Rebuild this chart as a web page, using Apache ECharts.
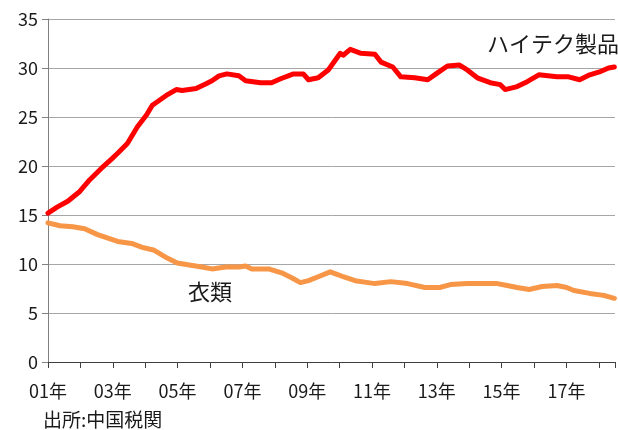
<!DOCTYPE html>
<html>
<head>
<meta charset="utf-8">
<script src="https://cdn.jsdelivr.net/npm/echarts@6/dist/echarts.min.js"></script>
<style>
  html, body { margin: 0; padding: 0; background: #ffffff; }
  #chart { width: 618px; height: 430px; }
</style>
</head>
<body>
<div id="chart"></div>
<script>
// ハイテク製品 share (%)
const hiTechYears = [
  2001.00, 2001.28, 2001.61, 2001.98, 2002.29, 2002.66, 2002.96, 2003.15, 2003.45, 2003.76,
  2004.04, 2004.22, 2004.65, 2004.96, 2005.14, 2005.57, 2005.88, 2006.06, 2006.28, 2006.52,
  2006.89, 2007.10, 2007.56, 2007.90, 2008.18, 2008.58, 2008.88, 2009.04, 2009.34, 2009.65,
  2010.02, 2010.11, 2010.33, 2010.66, 2011.09, 2011.28, 2011.64, 2011.89, 2012.32, 2012.72,
  2013.02, 2013.33, 2013.70, 2013.94, 2014.25, 2014.65, 2014.96, 2015.11, 2015.48, 2015.79,
  2016.15, 2016.71, 2017.07, 2017.41, 2017.72, 2018.02, 2018.30, 2018.48
];
const hiTechShare = [
  15.2, 15.8, 16.4, 17.4, 18.6, 19.8, 20.7, 21.3, 22.3, 24.0,
  25.2, 26.2, 27.2, 27.8, 27.7, 27.9, 28.4, 28.7, 29.2, 29.4,
  29.2, 28.7, 28.5, 28.5, 28.9, 29.4, 29.4, 28.8, 29.0, 29.8,
  31.5, 31.3, 31.9, 31.5, 31.4, 30.6, 30.1, 29.1, 29.0, 28.8,
  29.5, 30.2, 30.3, 29.8, 29.0, 28.5, 28.3, 27.8, 28.1, 28.6,
  29.3, 29.1, 29.1, 28.8, 29.3, 29.6, 30.0, 30.1
];

// 衣類 share (%)
const clothYears = [
  2001.00, 2001.37, 2001.77, 2002.13, 2002.53, 2003.15, 2003.58, 2003.91, 2004.28, 2004.68,
  2004.99, 2005.36, 2005.75, 2006.06, 2006.49, 2006.89, 2007.10, 2007.29, 2007.81, 2008.21,
  2008.52, 2008.79, 2009.04, 2009.34, 2009.71, 2009.96, 2010.11, 2010.48, 2010.88, 2011.09,
  2011.58, 2012.10, 2012.63, 2013.09, 2013.42, 2013.94, 2014.47, 2014.87, 2015.17, 2015.48,
  2015.85, 2016.25, 2016.71, 2017.01, 2017.23, 2017.72, 2018.15, 2018.48
];
const clothShare = [
  14.2, 13.9, 13.8, 13.6, 13.0, 12.3, 12.1, 11.7, 11.4, 10.6,
  10.1, 9.9, 9.7, 9.5, 9.7, 9.7, 9.8, 9.5, 9.5, 9.1,
  8.6, 8.1, 8.3, 8.7, 9.2, 8.9, 8.7, 8.3, 8.1, 8.0,
  8.2, 8.0, 7.6, 7.6, 7.9, 8.0, 8.0, 8.0, 7.8, 7.6,
  7.4, 7.7, 7.8, 7.6, 7.3, 7.0, 6.8, 6.5
];

const seriesNames = ["ハイテク製品", "衣類"];
const sourceNote = "出所:中国税関";

const font = "'Noto Sans CJK JP', 'Noto Sans', sans-serif";

function pairs(xs, ys) {
  return xs.map((x, i) => [x, ys[i]]);
}

const chart = echarts.init(document.getElementById("chart"), null, { renderer: "canvas" });

const option = {
  animation: false,
  backgroundColor: "#ffffff",
  grid: { left: 48, right: 0, top: 19, bottom: 68 },
  xAxis: {
    type: "value",
    min: 2001,
    max: 2018.5,
    interval: 1,
    splitLine: { show: false },
    axisLine: { show: true, lineStyle: { color: "#404040", width: 1 } },
    axisTick: { show: true, length: 6, lineStyle: { color: "#404040" } },
    axisLabel: {
      margin: 20,
      color: "#1a1a1a",
      fontFamily: font,
      fontSize: 18,
      formatter: function (v) {
        if (Math.abs(v - Math.round(v)) > 1e-6) return "";
        const y = Math.round(v);
        if ((y - 2001) % 2 !== 0) return "";
        return String(y % 100).padStart(2, "0") + "年";
      }
    }
  },
  yAxis: {
    type: "value",
    min: 0,
    max: 35,
    interval: 5,
    axisLine: { show: true, lineStyle: { color: "#808080", width: 1 } },
    axisTick: { show: true, length: 6, lineStyle: { color: "#808080" } },
    splitLine: { show: true, lineStyle: { color: "#a6a6a6", width: 1 } },
    axisLabel: {
      margin: 10,
      color: "#1a1a1a",
      fontFamily: font,
      fontSize: 18
    }
  },
  series: [
    {
      name: seriesNames[0],
      type: "line",
      data: pairs(hiTechYears, hiTechShare),
      showSymbol: false,
      symbol: "none",
      lineStyle: { color: "#ff0000", width: 5, cap: "round", join: "round" },
      z: 3
    },
    {
      name: seriesNames[1],
      type: "line",
      data: pairs(clothYears, clothShare),
      showSymbol: false,
      symbol: "none",
      lineStyle: { color: "#f79646", width: 5, cap: "round", join: "round" },
      z: 2
    }
  ],
  graphic: [
    {
      type: "text",
      left: 487,
      top: 33,
      style: { text: seriesNames[0], font: "22px " + font, fill: "#1a1a1a" }
    },
    {
      type: "text",
      left: 188,
      top: 281,
      style: { text: seriesNames[1], font: "22px " + font, fill: "#1a1a1a" }
    },
    {
      type: "text",
      left: 43,
      top: 410,
      style: { text: sourceNote, font: "19px " + font, fill: "#1a1a1a" }
    }
  ]
};

chart.setOption(option);
</script>
</body>
</html>
